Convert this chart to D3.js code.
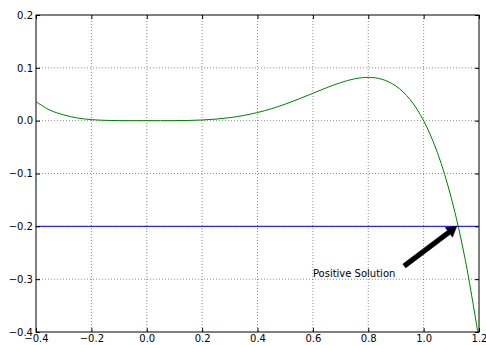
<!DOCTYPE html>
<html>
<head>
<meta charset="utf-8">
<script src="https://cdn.jsdelivr.net/npm/d3@7"></script>
<style>
  body { margin: 0; background: #fff; }
  text { font-family: "DejaVu Sans", sans-serif; font-size: 10px; fill: #000; }
</style>
</head>
<body>
<div id="chart"></div>
<script>
// Constants for the chart
const WIDTH = 486;
const HEIGHT = 345;
const MARGIN = { left: 36, top: 15, right: 7, bottom: 13 };
const INNER_W = WIDTH - MARGIN.left - MARGIN.right;
const INNER_H = HEIGHT - MARGIN.top - MARGIN.bottom;

// curve values
const xValues = [-0.40, -0.35, -0.30, -0.25, -0.20, -0.15, -0.10, -0.05, 0.00,
  0.05, 0.10, 0.15, 0.20, 0.25, 0.30, 0.35, 0.40, 0.45, 0.50, 0.55, 0.60,
  0.65, 0.70, 0.75, 0.80, 0.85, 0.90, 0.95, 1.00, 1.05, 1.10, 1.15, 1.20];
const yValues = [0.036, 0.020, 0.011, 0.005, 0.002, 0.0006, 0.0001, 0.0, 0.0,
  0.0, 0.0001, 0.0004, 0.0013, 0.0029, 0.0057, 0.0098, 0.0154, 0.0226, 0.0313,
  0.0412, 0.0518, 0.0625, 0.0720, 0.0791, 0.0819, 0.0783, 0.0656, 0.0407, 0.0,
  -0.0608, -0.1464, -0.2623, -0.415];

const xTicks = [-0.4, -0.2, 0.0, 0.2, 0.4, 0.6, 0.8, 1.0, 1.2];
const yTicks = [-0.4, -0.3, -0.2, -0.1, 0.0, 0.1, 0.2];
const hLineValue = -0.2;
const annotation = { text: "Positive Solution", x: 0.6, y: -0.3, tipX: 1.12, tipY: -0.2, tailX: 0.93, tailY: -0.275 };

const svg = d3.select("#chart").append("svg")
  .attr("width", WIDTH).attr("height", HEIGHT);
const g = svg.append("g")
  .attr("transform", "translate(" + MARGIN.left + "," + MARGIN.top + ")");

const x = d3.scaleLinear().domain([-0.4, 1.2]).range([0, INNER_W]);
const y = d3.scaleLinear().domain([-0.4, 0.2]).range([INNER_H, 0]);

// grid
g.append("g").selectAll("line").data(xTicks.slice(1, -1)).join("line")
  .attr("x1", d => x(d)).attr("x2", d => x(d))
  .attr("y1", 0).attr("y2", INNER_H)
  .attr("stroke", "#000").attr("stroke-opacity", 0.45)
  .attr("stroke-dasharray", "1,2");
g.append("g").selectAll("line").data(yTicks.slice(1, -1)).join("line")
  .attr("y1", d => y(d)).attr("y2", d => y(d))
  .attr("x1", 0).attr("x2", INNER_W)
  .attr("stroke", "#000").attr("stroke-opacity", 0.45)
  .attr("stroke-dasharray", "1,2");

g.append("clipPath").attr("id", "clip")
  .append("rect").attr("width", INNER_W).attr("height", INNER_H);

// curve
const points = xValues.map((v, i) => [v, yValues[i]]);
const line = d3.line()
  .x(d => x(d[0])).y(d => y(d[1]))
  .curve(d3.curveCatmullRom);
g.append("path").datum(points)
  .attr("clip-path", "url(#clip)")
  .attr("d", line)
  .attr("fill", "none").attr("stroke", "#008000").attr("stroke-width", 1);

// horizontal line
g.append("line")
  .attr("x1", 0).attr("x2", INNER_W)
  .attr("y1", y(hLineValue)).attr("y2", y(hLineValue))
  .attr("stroke", "#0000ff").attr("stroke-width", 1);

// annotation arrow
const tx = x(annotation.tailX), ty = y(annotation.tailY);
const hx = x(annotation.tipX), hy = y(annotation.tipY);
const len = Math.hypot(hx - tx, hy - ty);
const ux = (hx - tx) / len, uy = (hy - ty) / len;
const nx = -uy, ny = ux;
const headLen = 10, headW = 6, bodyW = 2.4;
const bx = hx - ux * headLen, by = hy - uy * headLen;
const arrowPts = [
  [tx + nx * bodyW, ty + ny * bodyW],
  [bx + nx * bodyW, by + ny * bodyW],
  [bx + nx * headW, by + ny * headW],
  [hx, hy],
  [bx - nx * headW, by - ny * headW],
  [bx - nx * bodyW, by - ny * bodyW],
  [tx - nx * bodyW, ty - ny * bodyW]
];
g.append("polygon")
  .attr("points", arrowPts.map(p => p.join(",")).join(" "))
  .attr("fill", "#000").attr("stroke", "#000").attr("stroke-width", 0.5);

g.append("text")
  .attr("x", x(annotation.x)).attr("y", y(annotation.y) - 2)
  .text(annotation.text);

// axes with inward ticks on all sides
const fmt = d => d3.format(".1f")(d).replace("-", "\u2212");
const axisBottom = g.append("g").attr("transform", `translate(0,${INNER_H})`)
  .call(d3.axisBottom(x).tickValues(xTicks).tickFormat(fmt).tickSizeInner(-4).tickSizeOuter(0).tickPadding(3));
const axisTop = g.append("g")
  .call(d3.axisTop(x).tickValues(xTicks).tickFormat("").tickSizeInner(-4).tickSizeOuter(0));
const axisLeft = g.append("g")
  .call(d3.axisLeft(y).tickValues(yTicks).tickFormat(fmt).tickSizeInner(-4).tickSizeOuter(0).tickPadding(3));
const axisRight = g.append("g").attr("transform", `translate(${INNER_W},0)`)
  .call(d3.axisRight(y).tickValues(yTicks).tickFormat("").tickSizeInner(-4).tickSizeOuter(0));

[axisBottom, axisTop, axisLeft, axisRight].forEach(a => {
  a.select(".domain").remove();
  a.selectAll("line").attr("stroke", "#000");
  a.selectAll("text").style("font-family", "DejaVu Sans, sans-serif").style("font-size", "10px").attr("fill", "#000");
});

g.append("rect")
  .attr("width", INNER_W).attr("height", INNER_H)
  .attr("fill", "none").attr("stroke", "#000").attr("stroke-width", 1);
</script>
</body>
</html>
